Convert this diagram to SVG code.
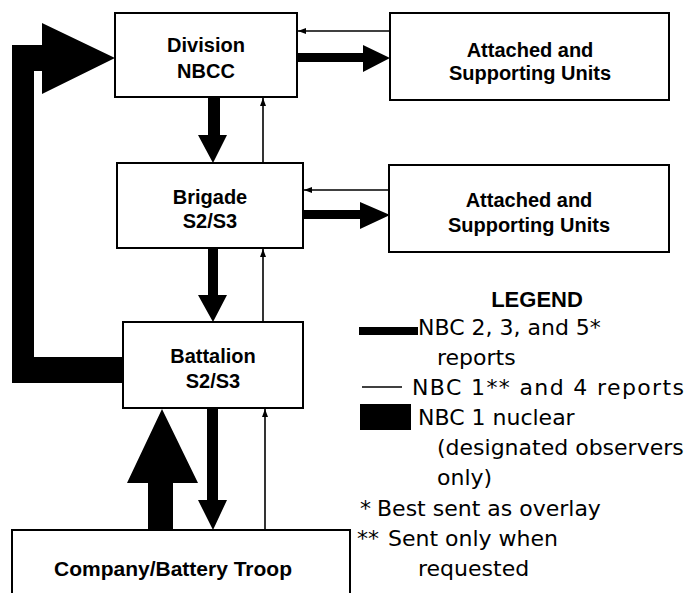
<svg xmlns="http://www.w3.org/2000/svg" width="686" height="593" viewBox="0 0 686 593">
<defs>
<style>
.box{fill:#fff;stroke:#000;stroke-width:2}
.bt{font-family:"Liberation Sans",Arial,sans-serif;font-weight:bold;font-size:20px;text-anchor:middle;fill:#000}
.lg{font-family:"DejaVu Sans","Liberation Sans",sans-serif;font-size:22px;fill:#000}
.lgb{font-family:"Liberation Sans",Arial,sans-serif;font-weight:bold;font-size:22px;fill:#000}
.thin{fill:none;stroke:#000;stroke-width:1.6}
.thick{fill:#000;stroke:none}
</style>
<marker id="ah" viewBox="0 0 8 6" refX="8" refY="3" markerWidth="8" markerHeight="6" markerUnits="userSpaceOnUse" orient="auto">
<path d="M0,0 L8,3 L0,6 z" fill="#000"/>
</marker>
</defs>
<rect width="686" height="593" fill="#fff"/>

<g id="connectors">
<!-- Battalion to Division big L arrow -->
<polygon class="thick" points="123,357 34,357 34,71 42,71 42,94 115,58 42,23 42,45 12,45 12,383 123,383"/>
<!-- Division to Attached 1 -->
<polygon class="thick" points="297,53 363,53 363,45 390,58 363,72 363,62 297,62"/>
<!-- Attached 1 to Division thin -->
<line class="thin" x1="390" y1="31" x2="298" y2="31" marker-end="url(#ah)"/>
<!-- Division to Brigade -->
<polygon class="thick" points="208,97 220,97 220,135 227,135 213,163 198,135 208,135"/>
<!-- Brigade to Division thin -->
<line class="thin" x1="263" y1="163" x2="263" y2="98" marker-end="url(#ah)"/>
<!-- Brigade to Attached 2 -->
<polygon class="thick" points="303,210 360,210 360,202 390,215 360,229 360,219 303,219"/>
<!-- Attached 2 to Brigade thin -->
<line class="thin" x1="389" y1="190" x2="304" y2="190" marker-end="url(#ah)"/>
<!-- Brigade to Battalion -->
<polygon class="thick" points="208,248 218,248 218,295 227,295 213,322 198,295 208,295"/>
<!-- Battalion to Brigade thin -->
<line class="thin" x1="263" y1="322" x2="263" y2="249" marker-end="url(#ah)"/>
<!-- Company to Battalion big up -->
<polygon class="thick" points="148,530 148,483 127,483 162,409 198,483 173,483 173,530"/>
<!-- Battalion to Company -->
<polygon class="thick" points="207,408 218,408 218,500 227,500 213,530 198,500 207,500"/>
<!-- Company to Battalion thin -->
<line class="thin" x1="265" y1="530" x2="265" y2="409" marker-end="url(#ah)"/>
</g>

<g id="division">
<rect class="box" x="115" y="13" width="182" height="84"/>
<text class="bt" x="206" y="52">Division</text>
<text class="bt" x="206" y="78">NBCC</text>
</g>
<g id="attached1">
<rect class="box" x="390" y="13" width="279" height="87"/>
<text class="bt" x="530" y="57">Attached and</text>
<text class="bt" x="530" y="80">Supporting Units</text>
</g>
<g id="brigade">
<rect class="box" x="117" y="163" width="186" height="85"/>
<text class="bt" x="210" y="204">Brigade</text>
<text class="bt" x="210" y="228">S2/S3</text>
</g>
<g id="attached2">
<rect class="box" x="389" y="165" width="280" height="87"/>
<text class="bt" x="529" y="207">Attached and</text>
<text class="bt" x="529" y="232">Supporting Units</text>
</g>
<g id="battalion">
<rect class="box" x="123" y="322" width="180" height="86"/>
<text class="bt" x="213" y="363">Battalion</text>
<text class="bt" x="213" y="388">S2/S3</text>
</g>
<g id="company">
<rect class="box" x="12" y="530" width="338" height="80"/>
<text class="bt" x="173" y="576" style="font-size:21px">Company/Battery Troop</text>
</g>

<g id="legend">
<text class="lgb" x="537" y="307" text-anchor="middle">LEGEND</text>
<rect x="359" y="327" width="59" height="8" fill="#000"/>
<text class="lg" x="418" y="335">NBC 2, 3, and 5*</text>
<text class="lg" x="437" y="365">reports</text>
<line x1="362" y1="387" x2="402" y2="387" stroke="#000" stroke-width="1.6"/>
<text class="lg" x="412" y="395" textLength="272" lengthAdjust="spacing">NBC 1** and 4 reports</text>
<rect x="360" y="404" width="51" height="26" fill="#000"/>
<text class="lg" x="418" y="425">NBC 1 nuclear</text>
<text class="lg" x="437" y="455">(designated observers</text>
<text class="lg" x="437" y="485">only)</text>
<text class="lg" x="360" y="516">*</text>
<text class="lg" x="377" y="516">Best sent as overlay</text>
<text class="lg" x="357" y="546">**</text>
<text class="lg" x="388" y="546">Sent only when</text>
<text class="lg" x="418" y="576">requested</text>
</g>
</svg>
